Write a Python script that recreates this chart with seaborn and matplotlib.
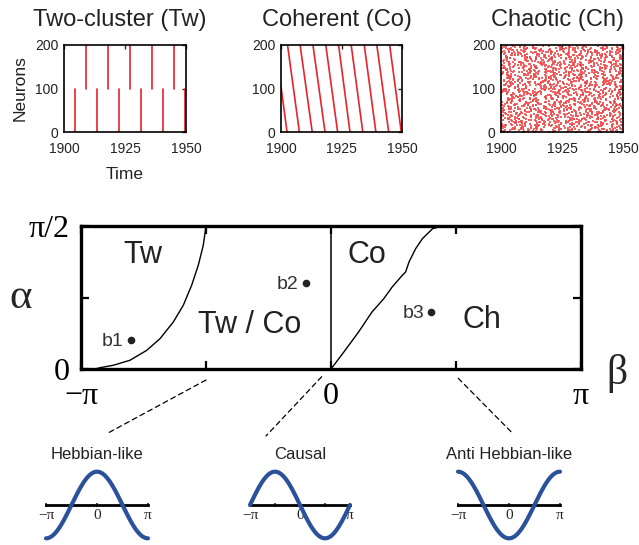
import numpy as np
import pandas as pd
import matplotlib
matplotlib.use("Agg")
import matplotlib.pyplot as plt
from matplotlib.patches import ConnectionPatch
import seaborn as sns

PI = np.pi

# --- raster panels ---------------------------------------------------------
# Two-cluster: spike times of the lower (0-100) and upper (100-200) cluster
tw_low_times = [1904.5, 1913.5, 1922.5, 1931.5, 1940.5, 1949.5]
tw_high_times = [1909.0, 1918.0, 1927.0, 1936.0, 1945.0]
# Coherent: each travelling wave crosses neuron 0 and neuron 200 at these times
co_t_bottom = [1902.5, 1907.6, 1912.9, 1918.2, 1923.4, 1928.5, 1933.8, 1939.2, 1944.5, 1949.7]
co_t_top = [1897.7, 1902.7, 1907.9, 1913.2, 1918.5, 1923.8, 1929.0, 1934.4, 1939.6, 1944.9]
n_neurons = 200
ch_spikes_per_neuron = 8

# --- phase diagram ---------------------------------------------------------
tw_border_beta = [-2.966, -2.903, -2.736, -2.526, -2.316, -2.149, -1.982, -1.856,
                  -1.751, -1.668, -1.605, -1.571]
tw_border_alpha = [0.0, 0.014, 0.041, 0.096, 0.205, 0.333, 0.516, 0.700,
                   0.920, 1.139, 1.359, 1.571]
ch_border_beta = [0.0, 0.177, 0.346, 0.515, 0.663, 0.769, 0.896, 0.938, 0.980,
                  1.064, 1.149, 1.276, 1.402, PI]
ch_border_alpha = [0.0, 0.205, 0.406, 0.626, 0.772, 0.901, 1.029, 1.066, 1.175,
                   1.322, 1.432, 1.541, 1.571, 1.571]
point_names = ["b1", "b2", "b3"]
point_beta = [-2.517, -0.318, 1.257]
point_alpha = [0.315, 0.948, 0.626]
region_names = ["Tw", "Tw / Co", "Co", "Ch"]
region_beta = [-2.359, -1.027, 0.448, 1.902]
region_alpha = [1.249, 0.483, 1.249, 0.538]

# --- kernels ---------------------------------------------------------------
kernel_names = ["Hebbian-like", "Causal", "Anti Hebbian-like"]
kernel_beta = [-PI / 2, 0.0, PI / 2]

red = "#e8232b"
blue = "#2b519b"
ink = "#222222"

sns.set_style("white")
plt.rcParams["font.family"] = ["Liberation Sans", "DejaVu Sans"]
serif = ["Liberation Serif", "DejaVu Serif"]

W, H = 639, 545
fig = plt.figure(figsize=(W / 100, H / 100), dpi=100)


def box(x0, y0, x1, y1):
    # pixel box (top-left origin) -> figure fraction rect
    return [x0 / W, 1 - y1 / H, (x1 - x0) / W, (y1 - y0) / H]


def raster_style(ax, title):
    ax.set_xlim(1900, 1950)
    ax.set_ylim(0, 200)
    ax.set_xticks([1900, 1925, 1950])
    ax.set_yticks([0, 100, 200])
    ax.tick_params(direction="in", length=3, width=1, top=True, right=True,
                   labelsize=10, labelcolor=ink, pad=4)
    ax.tick_params(axis="x", pad=7)
    for s in ax.spines.values():
        s.set_linewidth(1.2)
        s.set_color("black")
    ax.set_title(title, fontsize=17, color=ink, pad=14, x=0.46)


# Two-cluster
ax1 = fig.add_axes(box(64, 45, 186, 132))
rows = []
for i, t in enumerate(tw_low_times):
    rows += [("l%d" % i, t, 0), ("l%d" % i, t, 100)]
for i, t in enumerate(tw_high_times):
    rows += [("h%d" % i, t, 100), ("h%d" % i, t, 200)]
tw_df = pd.DataFrame(rows, columns=["spike", "time", "neuron"])
sns.lineplot(data=tw_df, x="time", y="neuron", units="spike", estimator=None,
             color=red, lw=1.2, ax=ax1)
raster_style(ax1, "Two-cluster (Tw)")
ax1.set_ylabel("Neurons", fontsize=12.5, color=ink, labelpad=5)
ax1.set_xlabel("Time", fontsize=12.5, color=ink, labelpad=8)

# Coherent
ax2 = fig.add_axes(box(281, 45, 402, 132))
rows = []
for i, (tb, tt) in enumerate(zip(co_t_bottom, co_t_top)):
    rows += [(i, tb, 0), (i, tt, n_neurons)]
co_df = pd.DataFrame(rows, columns=["wave", "time", "neuron"])
sns.lineplot(data=co_df, x="time", y="neuron", units="wave", estimator=None,
             sort=False, color=red, lw=1.2, ax=ax2)
raster_style(ax2, "Coherent (Co)")
ax2.set_xlabel("")
ax2.set_ylabel("")

# Chaotic: spike phases from a deterministic logistic map
x = 0.1234
ch_t, ch_n = [], []
for n in range(n_neurons):
    for k in range(ch_spikes_per_neuron):
        for _ in range(3):
            x = 3.99 * x * (1 - x)
        u = 2 / PI * np.arcsin(np.sqrt(x))
        ch_t.append(1900 + 50 * (k + u) / ch_spikes_per_neuron)
        ch_n.append(n)
ax3 = fig.add_axes(box(501, 45, 623, 132))
sns.scatterplot(x=ch_t, y=ch_n, s=1.6, marker="s", linewidth=0, color="#f04848",
                alpha=0.85, ax=ax3)
raster_style(ax3, "Chaotic (Ch)")

# --- phase diagram ---------------------------------------------------------
ax = fig.add_axes(box(81, 226, 581, 369))
sns.lineplot(x=tw_border_beta, y=tw_border_alpha, sort=False, color="black",
             lw=1.0, ax=ax)
sns.lineplot(x=ch_border_beta, y=ch_border_alpha, sort=False, color="black",
             lw=1.0, ax=ax)
ax.axvline(0, color="black", lw=1.1)
sns.scatterplot(x=point_beta, y=point_alpha, color=ink, s=30, linewidth=0,
                ax=ax, zorder=4)
for name, b, a in zip(point_names, point_beta, point_alpha):
    ax.annotate(name, (b, a), xytext=(-5, -1), textcoords="offset points",
                ha="right", va="center", fontsize=14, color="#333333")
for name, b, a in zip(region_names, region_beta, region_alpha):
    ax.text(b, a, name, ha="center", va="center", fontsize=22, color=ink)
ax.set_xlim(-PI, PI)
ax.set_ylim(0, PI / 2)
ax.set_xticks([-PI, -PI / 2, 0, PI / 2, PI])
ax.set_xticklabels(["\u2212\u03c0", "", "0", "", "\u03c0"], fontfamily=serif,
                   fontsize=23)
ax.set_yticks([0, PI / 4, PI / 2])
ax.set_yticklabels(["0", "", "\u03c0/2"], fontfamily=serif, fontsize=23)
ax.tick_params(direction="in", length=6, width=1.6, top=True, right=True,
               left=True, bottom=True, colors="black")
ax.tick_params(axis="x", pad=9)
ax.tick_params(axis="y", pad=8)
for s in ax.spines.values():
    s.set_linewidth(2.4)
    s.set_color("black")
ax.text(-0.12, 0.5, "\u03b1", transform=ax.transAxes, fontsize=31,
        fontfamily=serif, ha="center", va="center")
ax.text(1.072, -0.03, "\u03b2", transform=ax.transAxes, fontsize=30,
        fontfamily=serif, ha="center", va="center")

# --- kernel insets ---------------------------------------------------------
phi = np.linspace(-PI, PI, 200)
inset_boxes = [(46, 470, 148, 540), (250, 470, 350, 540), (458, 470, 560, 540)]
links_from = [(-PI / 2, -0.121), (-0.117, -0.085), (1.599, -0.102)]
links_to = [(0.61, 1.53), (0.16, 1.486), (0.52, 1.547)]
for name, beta, bx, src, dst in zip(kernel_names, kernel_beta, inset_boxes,
                                    links_from, links_to):
    k_ax = fig.add_axes(box(*bx))
    k_ax.patch.set_alpha(0)
    sns.lineplot(x=phi, y=-np.sin(phi + beta), color=blue, lw=3, ax=k_ax,
                 zorder=3, clip_on=False)
    k_ax.set_xlim(-PI, PI)
    k_ax.set_ylim(-1.05, 1.05)
    for s in ["left", "right", "top"]:
        k_ax.spines[s].set_visible(False)
    k_ax.spines["bottom"].set_position(("data", 0))
    k_ax.spines["bottom"].set_linewidth(2.0)
    k_ax.spines["bottom"].set_color("black")
    k_ax.set_xticks([-PI, -PI / 2, 0, PI / 2, PI])
    k_ax.set_xticklabels(["\u2212\u03c0", "", "0", "", "\u03c0"],
                         fontfamily=serif, fontsize=11)
    k_ax.set_yticks([])
    k_ax.tick_params(axis="x", direction="inout", length=3.5, width=1.2, pad=1,
                     bottom=True)
    k_ax.set_title(name, fontsize=12, color=ink, pad=8)
    con = ConnectionPatch(xyA=src, coordsA=ax.transData, xyB=dst,
                          coordsB=k_ax.transAxes, color="black", lw=0.9,
                          linestyle=(0, (4, 3)))
    fig.add_artist(con)

fig.savefig("out.png", dpi=100)
